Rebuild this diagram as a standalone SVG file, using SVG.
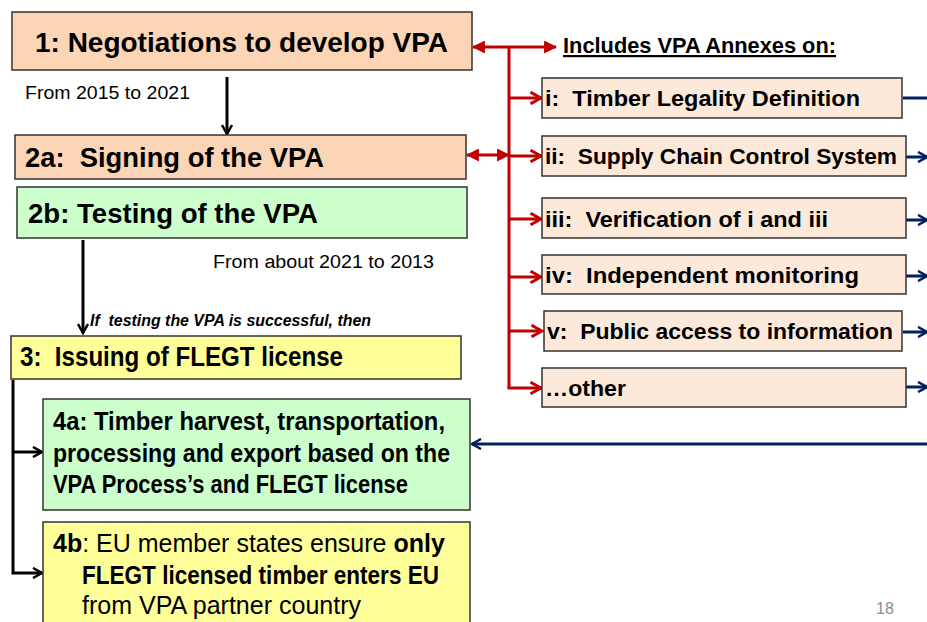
<svg xmlns="http://www.w3.org/2000/svg" width="927" height="622" viewBox="0 0 927 622">
<style>
.box{stroke:#333333;stroke-width:1.5}
.peach{fill:#FBD5B5}
.annex{fill:#FDE9D9}
.green{fill:#CCFFCC}
.yellow{fill:#FFFF99}
text{font-family:"Liberation Sans",Arial,sans-serif;fill:#000;white-space:pre}
.b{font-weight:bold}
.t1{font-size:28px;font-weight:bold}
.t2{font-size:27px;font-weight:bold}
.t4{font-size:25px}
.ta{font-size:22px;font-weight:bold}
.small{font-size:18px}
.blk{stroke:#000;stroke-width:3;fill:none}
.red{stroke:#C00000;stroke-width:3;fill:none}
.blue{stroke:#002060;stroke-width:3;fill:none}
</style>
<defs>
<marker id="chevK" viewBox="0 0 12 12" refX="10" refY="6" markerWidth="12" markerHeight="12" markerUnits="userSpaceOnUse" orient="auto-start-reverse">
<path d="M1,1 L10,6 L1,11" fill="none" stroke="#000" stroke-width="2.5"/>
</marker>
<marker id="chevR" viewBox="0 0 12 12" refX="10" refY="6" markerWidth="14" markerHeight="14" markerUnits="userSpaceOnUse" orient="auto-start-reverse">
<path d="M1,1 L10,6 L1,11" fill="none" stroke="#C00000" stroke-width="2.5"/>
</marker>
<marker id="chevB" viewBox="0 0 12 12" refX="10" refY="6" markerWidth="12" markerHeight="12" markerUnits="userSpaceOnUse" orient="auto-start-reverse">
<path d="M1,1 L10,6 L1,11" fill="none" stroke="#002060" stroke-width="2.5"/>
</marker>
<marker id="triR" viewBox="0 0 12 12" refX="11" refY="6" markerWidth="13" markerHeight="13" markerUnits="userSpaceOnUse" orient="auto-start-reverse">
<path d="M0,0 L12,6 L0,12 z" fill="#C00000"/>
</marker>
</defs>

<g id="connectors">
<line class="blk" x1="227" y1="77" x2="227" y2="134" marker-end="url(#chevK)"/>
<line class="blk" x1="83" y1="240" x2="83" y2="333" marker-end="url(#chevK)"/>
<polyline class="blk" points="13,380 13,573 42,573" marker-end="url(#chevK)"/>
<line class="blk" x1="13" y1="452" x2="42" y2="452" marker-end="url(#chevK)"/>
<line class="red" x1="473" y1="47" x2="556" y2="47" marker-start="url(#triR)" marker-end="url(#triR)"/>
<line class="red" x1="509" y1="47" x2="509" y2="388"/>
<line class="red" x1="467" y1="155" x2="509" y2="155" marker-start="url(#triR)" marker-end="url(#triR)"/>
<line class="red" x1="510" y1="98" x2="541" y2="98" marker-end="url(#chevR)"/>
<line class="red" x1="510" y1="156" x2="541" y2="156" marker-end="url(#chevR)"/>
<line class="red" x1="510" y1="219" x2="541" y2="219" marker-end="url(#chevR)"/>
<line class="red" x1="510" y1="277" x2="541" y2="277" marker-end="url(#chevR)"/>
<line class="red" x1="510" y1="331" x2="542" y2="331" marker-end="url(#chevR)"/>
<polyline class="red" points="509,386.5 509,388 541,388" marker-end="url(#chevR)"/>
<line class="blue" x1="903" y1="98" x2="927" y2="98"/>
<line class="blue" x1="906" y1="157" x2="927" y2="157" marker-end="url(#chevB)"/>
<line class="blue" x1="906" y1="220" x2="927" y2="220" marker-end="url(#chevB)"/>
<line class="blue" x1="906" y1="276" x2="927" y2="276" marker-end="url(#chevB)"/>
<line class="blue" x1="903" y1="332" x2="927" y2="332" marker-end="url(#chevB)"/>
<line class="blue" x1="906" y1="387" x2="927" y2="387" marker-end="url(#chevB)"/>
<line class="blue" x1="930" y1="444" x2="472" y2="444" stroke-width="3.5" marker-end="url(#chevB)"/>
</g>

<g id="node1">
<rect class="box peach" x="12" y="12" width="460" height="58"/>
<text class="t1" x="35" y="52" textLength="413" lengthAdjust="spacingAndGlyphs">1: Negotiations to develop VPA</text>
</g>
<g id="label-2015">
<text class="small" x="25" y="99" textLength="165" lengthAdjust="spacingAndGlyphs">From 2015 to 2021</text>
</g>
<g id="node2a">
<rect class="box peach" x="15" y="135" width="451" height="44"/>
<text class="t2" x="25" y="167" textLength="299" lengthAdjust="spacingAndGlyphs" xml:space="preserve">2a:  Signing of the VPA</text>
</g>
<g id="node2b">
<rect class="box green" x="17" y="187" width="450" height="51"/>
<text class="t2" x="28" y="223" textLength="290" lengthAdjust="spacingAndGlyphs">2b: Testing of the VPA</text>
</g>
<g id="label-2021">
<text class="small" x="213" y="268" textLength="221" lengthAdjust="spacingAndGlyphs">From about 2021 to 2013</text>
</g>
<g id="label-if">
<text x="90" y="326" font-size="16" font-weight="bold" font-style="italic" textLength="281" lengthAdjust="spacingAndGlyphs" xml:space="preserve">If  testing the VPA is successful, then</text>
</g>
<g id="node3">
<rect class="box yellow" x="11" y="336" width="450" height="43"/>
<text class="t2" x="20" y="366" textLength="323" lengthAdjust="spacingAndGlyphs" xml:space="preserve">3:  Issuing of FLEGT license</text>
</g>
<g id="node4a">
<rect class="box green" x="43" y="399" width="427" height="111"/>
<text class="t4 b" x="53" y="430" textLength="392" lengthAdjust="spacingAndGlyphs">4a: Timber harvest, transportation,</text>
<text class="t4 b" x="53" y="462" textLength="397" lengthAdjust="spacingAndGlyphs">processing and export based on the</text>
<text class="t4 b" x="53" y="493" textLength="355" lengthAdjust="spacingAndGlyphs">VPA Process’s and FLEGT license</text>
</g>
<g id="node4b">
<rect class="box yellow" x="43" y="522" width="427" height="110"/>
<text class="t4" x="53" y="552"><tspan class="b">4b</tspan>: EU member states ensure <tspan class="b">only</tspan></text>
<text class="t4 b" x="82" y="584" textLength="357" lengthAdjust="spacingAndGlyphs">FLEGT licensed timber enters EU</text>
<text class="t4" x="82" y="614" textLength="279" lengthAdjust="spacingAndGlyphs">from VPA partner country</text>
</g>
<g id="label-includes">
<text x="563" y="53" font-size="22" font-weight="bold" text-decoration="underline" textLength="273" lengthAdjust="spacingAndGlyphs">Includes VPA Annexes on:</text>
</g>
<g id="annex-i">
<rect class="box annex" x="542" y="78" width="360" height="40"/>
<text class="ta" x="545" y="106" textLength="315" lengthAdjust="spacingAndGlyphs" xml:space="preserve">i:  Timber Legality Definition</text>
</g>
<g id="annex-ii">
<rect class="box annex" x="542" y="136" width="364" height="40"/>
<text class="ta" x="545" y="164" textLength="352" lengthAdjust="spacingAndGlyphs" xml:space="preserve">ii:  Supply Chain Control System</text>
</g>
<g id="annex-iii">
<rect class="box annex" x="542" y="198" width="364" height="40"/>
<text class="ta" x="545" y="227" textLength="283" lengthAdjust="spacingAndGlyphs" xml:space="preserve">iii:  Verification of i and iii</text>
</g>
<g id="annex-iv">
<rect class="box annex" x="542" y="255" width="364" height="39"/>
<text class="ta" x="545" y="283" textLength="314" lengthAdjust="spacingAndGlyphs" xml:space="preserve">iv:  Independent monitoring</text>
</g>
<g id="annex-v">
<rect class="box annex" x="544" y="311" width="358" height="40"/>
<text class="ta" x="547" y="339" textLength="346" lengthAdjust="spacingAndGlyphs" xml:space="preserve">v:  Public access to information</text>
</g>
<g id="annex-other">
<rect class="box annex" x="542" y="368" width="364" height="39"/>
<text class="ta" x="545" y="396" textLength="81" lengthAdjust="spacingAndGlyphs">…other</text>
</g>
<g id="page-number">
<text x="876" y="614" font-size="16" style="fill:#8c8c8c">18</text>
</g>
</svg>
